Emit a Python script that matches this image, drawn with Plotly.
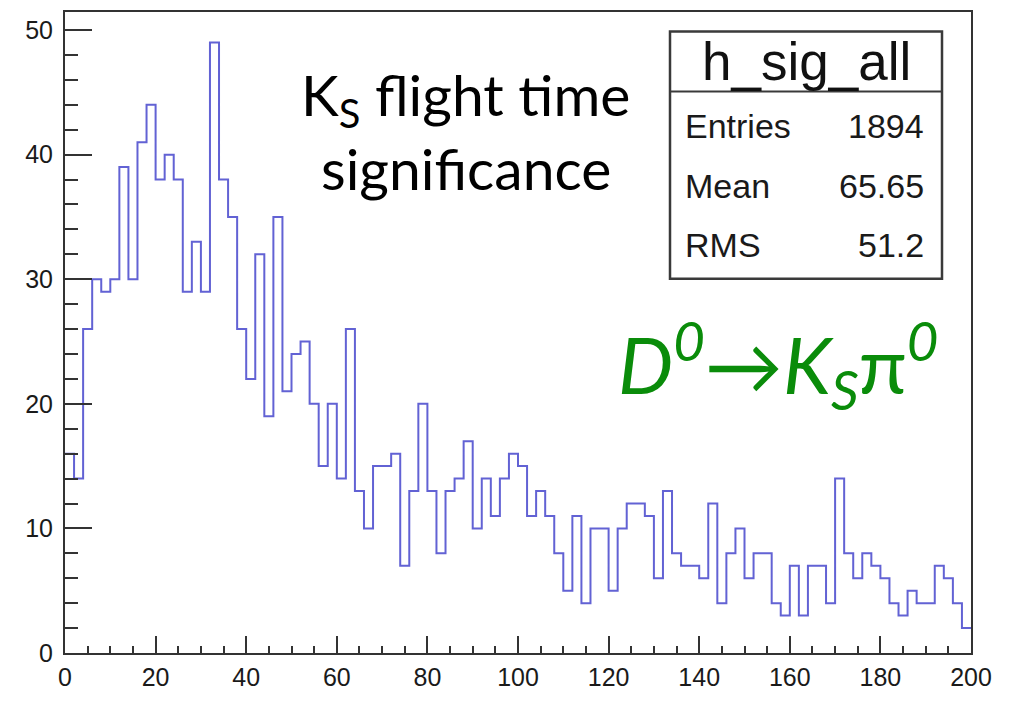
import plotly.graph_objects as go

# Histogram h_sig_all: 100 bins of width 2 over [0, 200]
bin_lo = 0.0
bin_hi = 200.0
n_bins = 100
counts = [
    16, 14, 26, 30, 29, 30, 39, 30, 41, 44,
    38, 40, 38, 29, 33, 29, 49, 38, 35, 26,
    22, 32, 19, 35, 21, 24, 25, 20, 15, 20,
    14, 26, 13, 10, 15, 15, 16, 7, 13, 20,
    13, 8, 13, 14, 17, 10, 14, 11, 14, 16,
    15, 11, 13, 11, 8, 5, 11, 4, 10, 10,
    5, 10, 12, 12, 11, 6, 13, 8, 7, 7,
    6, 12, 4, 8, 10, 6, 8, 8, 4, 3,
    7, 3, 7, 7, 4, 14, 8, 6, 8, 7,
    6, 4, 3, 5, 4, 4, 7, 6, 4, 2,
]
stat_names = ["Entries", "Mean", "RMS"]
stat_values = ["1894", "65.65", "51.2"]
hist_name = "h_sig_all"

x_ticks = list(range(0, 201, 20))
y_ticks = list(range(0, 51, 10))

W, H = 1021, 701
L, R, T, B = 65, 50, 10, 30
y_max = 1.05 * max(counts)

width = (bin_hi - bin_lo) / n_bins
edges = [bin_lo + i * width for i in range(n_bins + 1)]
step_y = counts + [counts[-1]]


def px(x):
    return (x - L) / (W - L - R)


def py(y):
    return (H - B - y) / (H - T - B)


fig = go.Figure()
fig.add_trace(go.Scatter(
    x=edges, y=step_y, mode="lines", line_shape="hv",
    line=dict(color="#6262d4", width=2), hoverinfo="skip",
))

axis_font = dict(family="Liberation Sans, Arial, sans-serif", size=25, color="#1a1a1a")
fig.update_layout(
    width=W, height=H,
    margin=dict(l=L, r=R, t=T, b=B, pad=0),
    paper_bgcolor="white", plot_bgcolor="white",
    showlegend=False,
    xaxis=dict(
        range=[bin_lo, bin_hi], tickvals=x_ticks, ticks="inside", ticklen=17,
        tickwidth=1.5, tickcolor="#333", showgrid=False, zeroline=False,
        showline=True, linecolor="#333", linewidth=2, mirror=True,
        tickfont=axis_font, ticklabelstandoff=1,
        minor=dict(dtick=5, ticks="inside", ticklen=7, tickwidth=1.5, tickcolor="#333", showgrid=False),
    ),
    yaxis=dict(
        range=[0, y_max], tickvals=y_ticks, ticks="inside", ticklen=27,
        tickwidth=1.5, tickcolor="#333", showgrid=False, zeroline=False,
        showline=True, linecolor="#333", linewidth=2, mirror=True,
        tickfont=axis_font, ticklabelstandoff=5,
        minor=dict(dtick=2, ticks="inside", ticklen=13, tickwidth=1.5, tickcolor="#333", showgrid=False),
    ),
)

# Statistics box
bx0, bx1, by0, by1, bsep = 670, 942, 30, 285, 92
fig.add_shape(type="rect", xref="paper", yref="paper",
              x0=px(bx0), x1=px(bx1), y0=py(by1), y1=py(by0),
              line=dict(color="#3a3a3a", width=2.5), fillcolor="white", layer="above")
fig.add_shape(type="line", xref="paper", yref="paper",
              x0=px(bx0), x1=px(bx1), y0=py(bsep), y1=py(bsep),
              line=dict(color="#3a3a3a", width=2), layer="above")

stat_font = dict(family="Liberation Sans, Arial, sans-serif", size=34, color="#1a1a1a")
fig.add_annotation(xref="paper", yref="paper", x=px((bx0 + bx1) / 2), y=py(61),
                   text=hist_name, showarrow=False, xanchor="center", yanchor="middle",
                   font=dict(family="Liberation Sans, Arial, sans-serif", size=53, color="#111"))
for i, (name, val) in enumerate(zip(stat_names, stat_values)):
    yc = 128 + i * 61
    fig.add_annotation(xref="paper", yref="paper", x=px(683), y=py(yc), text=name,
                       showarrow=False, xanchor="left", yanchor="middle", font=stat_font)
    fig.add_annotation(xref="paper", yref="paper", x=px(926), y=py(yc), text=val,
                       showarrow=False, xanchor="right", yanchor="middle", font=stat_font)

# Overlaid captions
cap_font = dict(family="Lato, Open Sans, sans-serif", size=57, color="#000")
fig.add_annotation(xref="paper", yref="paper", x=px(465), y=py(99),
                   text="K<sub>S</sub> flight time", showarrow=False,
                   xanchor="center", yanchor="middle", font=cap_font)
fig.add_annotation(xref="paper", yref="paper", x=px(466), y=py(171),
                   text="significance", showarrow=False,
                   xanchor="center", yanchor="middle", font=cap_font)
fig.add_annotation(xref="paper", yref="paper", x=px(778), y=py(374),
                   text="<i>D<sup>0</sup></i>→<i>K<sub>S</sub></i>π<i><sup>0</sup></i>",
                   showarrow=False, xanchor="center", yanchor="middle",
                   font=dict(family="Lato, Open Sans, sans-serif", size=78, color="#0a8c0a"))

fig.write_html("out.html")
